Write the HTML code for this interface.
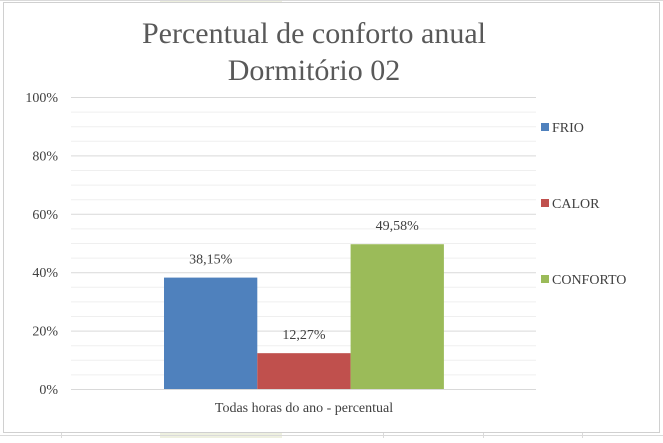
<!DOCTYPE html>
<html><head><meta charset="utf-8"><style>
body{margin:0;width:663px;height:438px;overflow:hidden;background:#fff;}
svg text{font-family:"Liberation Serif","Tinos","Times New Roman","Nimbus Roman","DejaVu Serif",serif;}
</style></head><body>
<svg width="663" height="438" xmlns="http://www.w3.org/2000/svg">
<g stroke="#dadada" stroke-width="1">
<rect x="160" y="0" width="122" height="438" fill="#eef0e0" stroke="none"/>
<line x1="0" y1="0.5" x2="663" y2="0.5"/><line x1="0" y1="435.5" x2="663" y2="435.5"/>
<line x1="61.5" y1="433" x2="61.5" y2="438"/><line x1="383.5" y1="433" x2="383.5" y2="438"/><line x1="483.5" y1="433" x2="483.5" y2="438"/><line x1="582.5" y1="433" x2="582.5" y2="438"/>
</g>
<rect x="3.5" y="2.5" width="656" height="430" fill="#fff" stroke="#d0d0d0"/>
<text x="314" y="43" text-anchor="middle" font-size="30" fill="#595959">Percentual de conforto anual</text>
<text x="314" y="80" text-anchor="middle" font-size="30" fill="#595959">Dormitório 02</text>
<g id="grid"></g><g id="bars"></g><g id="legend"></g>
<text x="304" y="412" text-anchor="middle" font-size="14" fill="#404040">Todas horas do ano - percentual</text>
</svg>
<script>
const categories=["FRIO","CALOR","CONFORTO"];
const values=[38.15,12.27,49.58];
const labels=["38,15%","12,27%","49,58%"];
const ticks=[0,20,40,60,80,100];
const colors=["#4f81bd","#c0504d","#9bbb59"];
const NS="http://www.w3.org/2000/svg";
const y0=389,y1=97,px0=71,px1=536;
const y=v=>y0-(v/100)*(y0-y1);
function mk(t,a,p){const e=document.createElementNS(NS,t);for(const k in a)e.setAttribute(k,a[k]);p.appendChild(e);return e;}
const g=document.getElementById('grid');
for(let v=5;v<100;v+=5){if(v%20){const l=mk('line',{x1:px0,x2:px1,y1:y(v)+.5,y2:y(v)+.5,stroke:'#efefef'},g);

}}
ticks.forEach(v=>{const l=mk('line',{x1:px0,x2:px1,y1:y(v)+.5,y2:y(v)+.5,stroke:'#d9d9d9'},g);


const t=mk('text',{x:58,y:y(v)+5,'text-anchor':'end','font-size':14,fill:'#404040'},g);t.textContent=v+'%';

});
const b=document.getElementById('bars');const bw=93.3,bx0=164;
values.forEach((v,i)=>{const x=bx0+i*bw;
const r=mk('rect',{x:x,y:y(v),width:bw,height:y0-y(v),fill:colors[i]},b);


const t=mk('text',{x:x+bw/2,y:y(v)-14,'text-anchor':'middle','font-size':14,fill:'#404040'},b);t.textContent=labels[i];

});
const lg=document.getElementById('legend');
categories.forEach((c,i)=>{const ly=127+i*76;
const s=mk('rect',{x:541,y:ly-4,width:8,height:8,fill:colors[i]},lg);


const t=mk('text',{x:552,y:ly+5,'font-size':14,fill:'#404040'},lg);t.textContent=c;

});
</script>
</body></html>
